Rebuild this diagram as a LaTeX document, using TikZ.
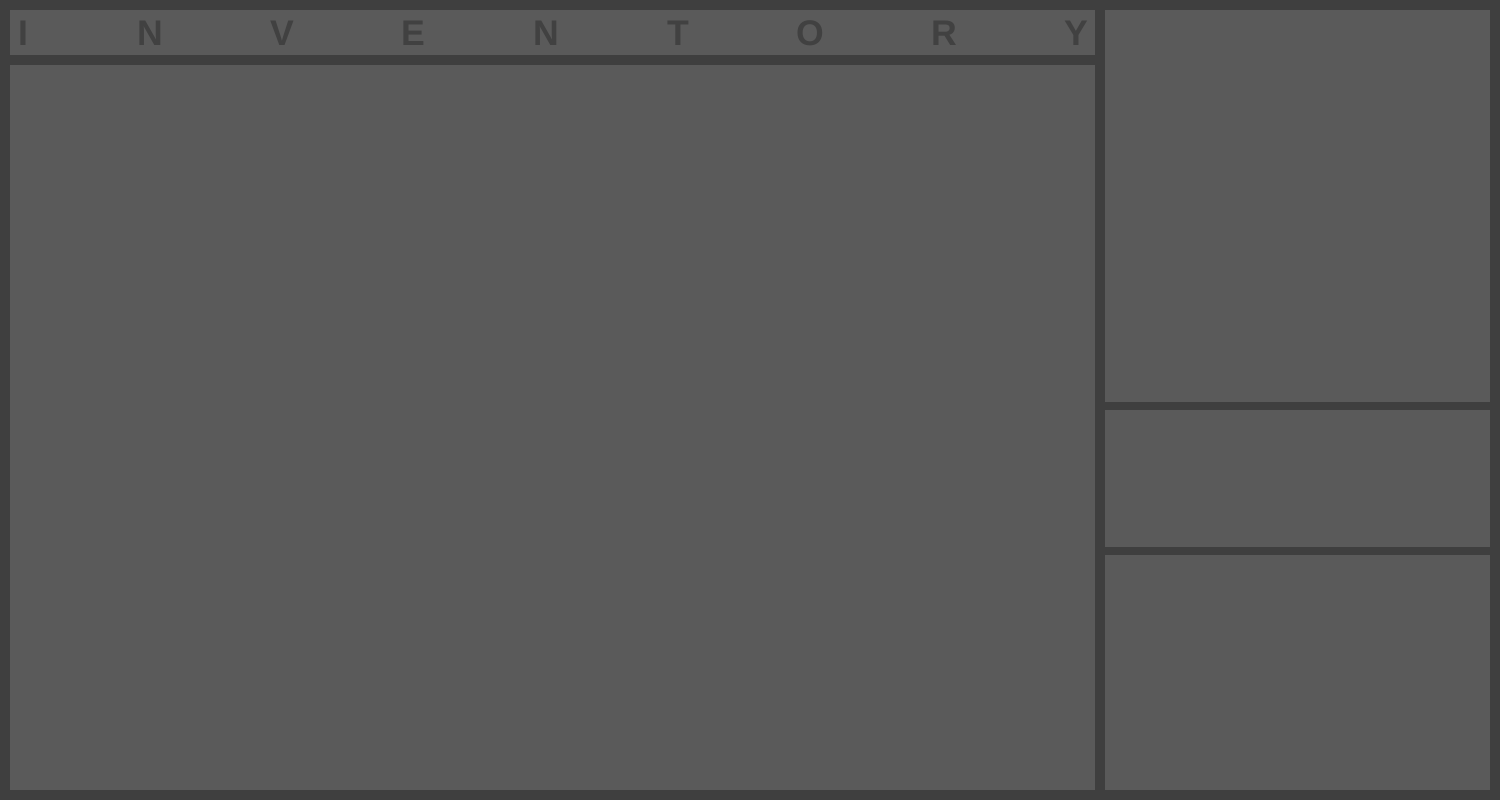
\documentclass[tikz,border=0pt]{standalone}
\usepackage{fontspec}
\setmainfont{Liberation Sans}
\definecolor{bgc}{HTML}{3F3F3F}
\definecolor{panelc}{HTML}{5A5A5A}
\definecolor{txtc}{HTML}{414141}
\begin{document}
\begin{tikzpicture}[x=1pt,y=-1pt,
  panel/.style={fill=panelc,draw=none},
  letter/.style={text=txtc,font=\fontsize{35.6}{36}\selectfont\bfseries,inner sep=0pt,anchor=base}]
\fill[bgc] (0,0) rectangle (1500,800);
\useasboundingbox (0,0) rectangle (1500,800);
\path[panel] (10,10) rectangle (1095,55);
\path[panel] (10,65) rectangle (1095,790);
\path[panel] (1105,10) rectangle (1490,402);
\path[panel] (1105,410) rectangle (1490,547);
\path[panel] (1105,555) rectangle (1490,790);
\foreach \ch/\xx [count=\i] in {I/23,N/150,V/282.5,E/413.5,N/546,T/678,O/810.5,R/944.5,Y/1076}{
  \node[letter] (l\i) at (\xx,46) {\ch};
}
\end{tikzpicture}
\end{document}
